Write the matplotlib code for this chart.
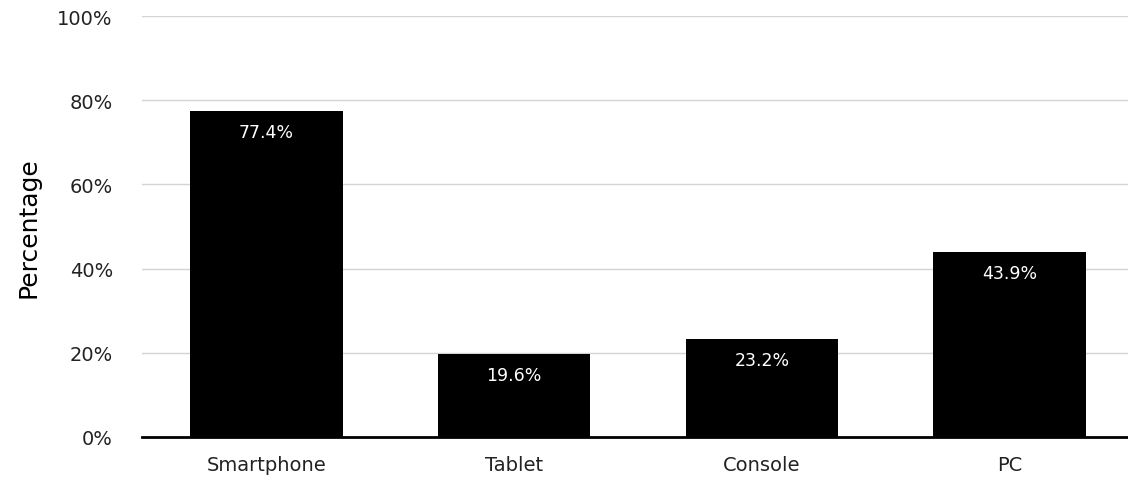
import matplotlib.pyplot as plt
from matplotlib.ticker import FuncFormatter

devices = ["Smartphone", "Tablet", "Console", "PC"]
shares = [77.4, 19.6, 23.2, 43.9]
y_ticks = [0, 20, 40, 60, 80, 100]

plt.rcParams['font.family'] = ['DejaVu Sans']

fig = plt.figure(figsize=(11.28, 4.81), dpi=100)
ax = fig.add_axes([142 / 1128, 43 / 481, 1 - 142 / 1128, 421 / 481])

x = range(len(devices))
bars = ax.bar(x, shares, width=0.616, color="black", zorder=3)

for b, v in zip(bars, shares):
    ax.text(b.get_x() + b.get_width() / 2, v - 2.8, f"{v:.1f}%",
            ha="center", va="top", color="white", fontsize=12.5)

ax.set_xlim(-0.502, 3.478)
ax.set_ylim(0, 100)
ax.set_yticks(y_ticks)
ax.yaxis.set_major_formatter(FuncFormatter(lambda v, p: f"{v:.0f}%"))
ax.set_xticks(list(x))
ax.set_xticklabels(devices)
ax.tick_params(axis="both", length=0, labelsize=14, colors="#222222")
ax.tick_params(axis="x", pad=13)
ax.tick_params(axis="y", pad=21)
ax.grid(axis="y", color="#d4d4d4", linewidth=1, zorder=0)

for s in ["top", "right", "left"]:
    ax.spines[s].set_visible(False)
ax.spines["bottom"].set_linewidth(2)
ax.spines["bottom"].set_zorder(4)

ax.set_ylabel("Percentage", fontsize=18, labelpad=12)

fig.savefig("out.png", dpi=100)
